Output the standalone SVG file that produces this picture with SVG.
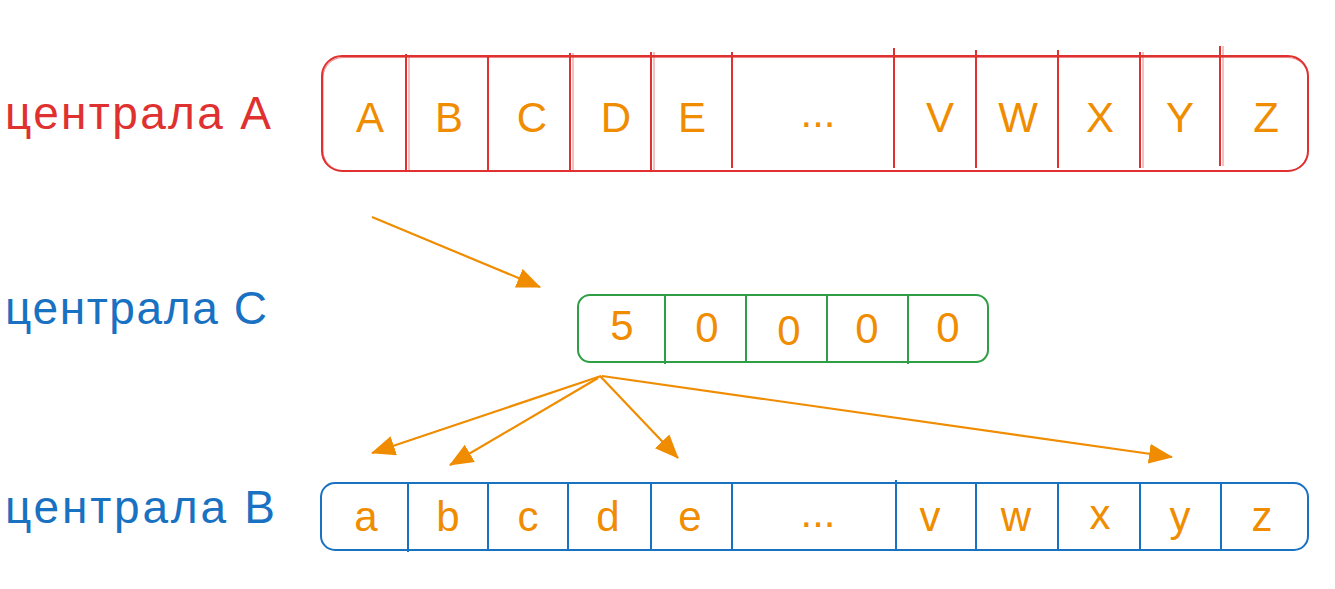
<svg xmlns="http://www.w3.org/2000/svg" width="1335" height="589" viewBox="0 0 1335 589">
<style>
.lbl{font-family:"Liberation Sans","Noto Sans",sans-serif;font-size:46px}
.cell{font-family:"Liberation Sans","Noto Sans",sans-serif;font-size:42px;fill:#f08c00;text-anchor:middle}
.red{fill:none;stroke:#e03131;stroke-width:2}
.red2{fill:none;stroke:#e03131;stroke-width:1;opacity:0.6}
.grn{fill:none;stroke:#2f9e44;stroke-width:2}
.blu{fill:none;stroke:#1971c2;stroke-width:2}
.arr{fill:none;stroke:#f08c00;stroke-width:2.2;marker-end:url(#ah)}
</style>
<defs>
<marker id="ah" viewBox="0 0 24 20" refX="23" refY="10" markerWidth="24" markerHeight="20" markerUnits="userSpaceOnUse" orient="auto">
<path d="M0,0 L24,10 L0,20 Z" fill="#f08c00"/>
</marker>
</defs>
<rect width="1335" height="589" fill="#ffffff"/>

<g id="label-a"><text class="lbl" x="5" y="129" fill="#e03131" textLength="266" lengthAdjust="spacing">централа A</text></g>
<g id="label-c"><text class="lbl" x="5" y="324" fill="#1971c2" textLength="262" lengthAdjust="spacing">централа C</text></g>
<g id="label-b"><text class="lbl" x="5" y="523" fill="#1971c2" textLength="270" lengthAdjust="spacing">централа B</text></g>

<g id="centrala-a">
<rect class="red" x="322" y="56" width="986" height="115" rx="20"/>
<rect class="red2" x="323" y="57.5" width="985" height="113" rx="20"/>
<path class="red" d="M406,54 V172 M488,55 V172 M570,53 V170 M651,52 V170 M732,52 V168 M894,48 V168 M976,50 V168 M1058,50 V168 M1140,52 V168 M1220,46 V166"/>
<path class="red2" d="M573,53 V170 M654,52 V170 M1143,52 V168 M1223,46 V166 M409,55 V171"/>
<text class="cell" x="370" y="132">A</text>
<text class="cell" x="449" y="132">B</text>
<text class="cell" x="532" y="132">C</text>
<text class="cell" x="616" y="132">D</text>
<text class="cell" x="692" y="132">E</text>
<text class="cell" x="818" y="127">...</text>
<text class="cell" x="940" y="132">V</text>
<text class="cell" x="1018" y="132">W</text>
<text class="cell" x="1100" y="132">X</text>
<text class="cell" x="1180" y="132">Y</text>
<text class="cell" x="1266" y="132">Z</text>
</g>

<g id="centrala-c">
<rect class="grn" x="578" y="295" width="410" height="67" rx="12"/>
<path class="grn" d="M665,294 V364 M746,295 V363 M827,295 V363 M908,295 V364"/>
<text class="cell" x="622" y="340">5</text>
<text class="cell" x="707" y="342">0</text>
<text class="cell" x="789" y="345">0</text>
<text class="cell" x="867" y="343">0</text>
<text class="cell" x="948" y="342">0</text>
</g>

<g id="centrala-b">
<rect class="blu" x="321" y="483" width="987" height="67" rx="14"/>
<path class="blu" d="M408,483 V552 M488,483 V550 M568,483 V550 M651,483 V550 M732,483 V551 M896,480 V551 M976,483 V551 M1058,483 V551 M1140,483 V550 M1221,483 V550"/>
<text class="cell" x="366" y="531">a</text>
<text class="cell" x="448" y="531">b</text>
<text class="cell" x="528" y="531">c</text>
<text class="cell" x="608" y="531">d</text>
<text class="cell" x="690" y="531">e</text>
<text class="cell" x="818" y="527">...</text>
<text class="cell" x="930" y="531">v</text>
<text class="cell" x="1016" y="531">w</text>
<text class="cell" x="1100" y="529">x</text>
<text class="cell" x="1180" y="531">y</text>
<text class="cell" x="1262" y="531">z</text>
</g>

<g id="connectors">
<path class="arr" d="M372,217 L540,287"/>
<path class="arr" d="M601,376 L372,453"/>
<path class="arr" d="M598,378 L450,465"/>
<path class="arr" d="M600,376 L678,458"/>
<path class="arr" d="M602,376 L1172,457"/>
</g>
</svg>
